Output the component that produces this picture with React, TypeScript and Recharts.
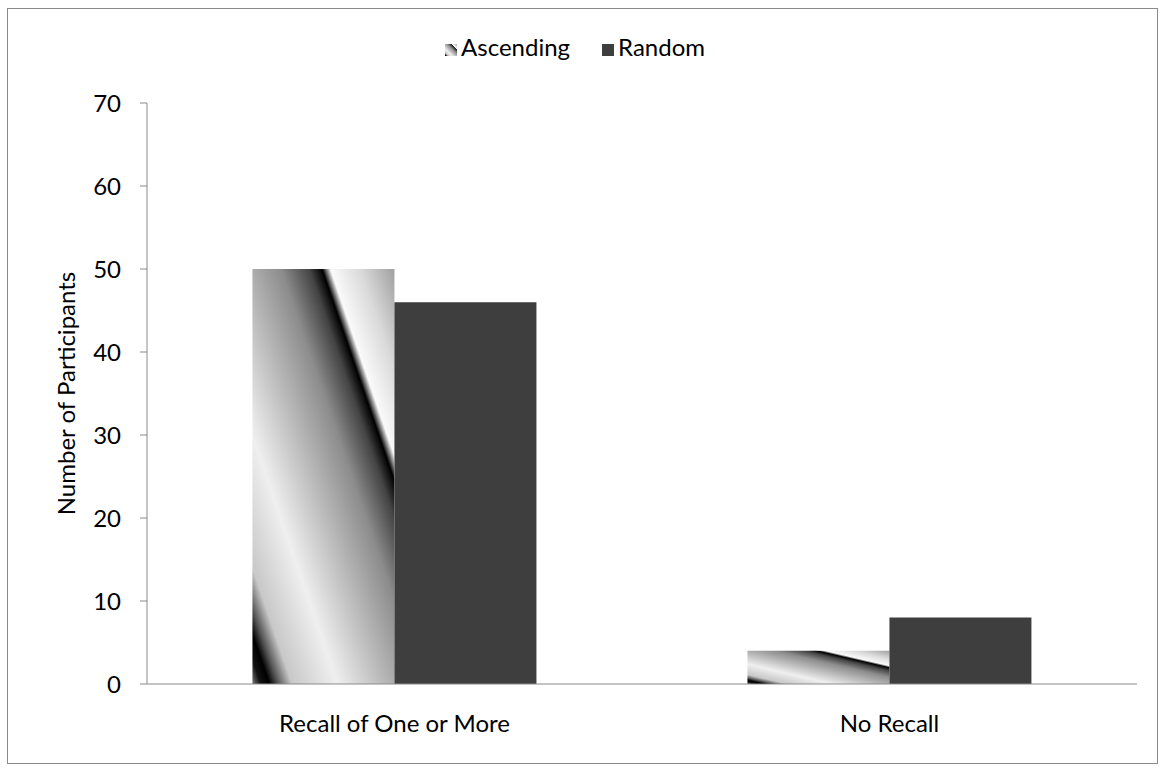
import React from "react";
import { BarChart, Bar, XAxis, YAxis, Legend } from "recharts";

const categories = ["Recall of One or More", "No Recall"];
const ascending = [50, 4];
const random = [46, 8];
const yTicks = [0, 10, 20, 30, 40, 50, 60, 70];

const data = categories.map((c, i) => ({ name: c, idx: i, Ascending: ascending[i], Random: random[i] }));

const FONT = "Lato, 'Open Sans', sans-serif";
const FS = 24;

const EmptyTick = () => <g />;

export default function App() {
  return (
    <div style={{ position: "absolute", left: 0, top: 0, width: 1160, height: 769, background: "#fff", fontFamily: FONT }}>
      <div style={{ position: "absolute", left: 7, top: 8, width: 1149, height: 754, border: "1px solid #8a8a8a" }} />
      <div style={{ position: "absolute", left: 0, top: 0 }}>
        <BarChart
          width={1160}
          height={769}
          data={data}
          margin={{ top: 73, right: 23, bottom: 0, left: 0 }}
          barCategoryGap="21.3%"
          barGap={0}
        >
          <defs>
            <linearGradient id="ascGrad" x1="0" y1="1" x2="1" y2="0">
              <stop offset="0" stopColor="#777" />
              <stop offset="0.03" stopColor="#111" />
              <stop offset="0.06" stopColor="#000" />
              <stop offset="0.09" stopColor="#555" />
              <stop offset="0.14" stopColor="#c8c8c8" />
              <stop offset="0.3" stopColor="#efefef" />
              <stop offset="0.45" stopColor="#bdbdbd" />
              <stop offset="0.6" stopColor="#8c8c8c" />
              <stop offset="0.7" stopColor="#444" />
              <stop offset="0.745" stopColor="#000" />
              <stop offset="0.775" stopColor="#fafafa" />
              <stop offset="0.88" stopColor="#d9d9d9" />
              <stop offset="1" stopColor="#a0a0a0" />
            </linearGradient>
          </defs>
          <Legend
            verticalAlign="top"
            align="center"
            iconType="square"
            iconSize={12}
            wrapperStyle={{ top: 32, left: 0, width: 1160, fontSize: FS, fontFamily: FONT, lineHeight: "30px" }}
            formatter={(v) => (
              <span style={{ color: "#000", marginRight: v === "Ascending" ? 22 : 0 }}>{v}</span>
            )}
          />
          <XAxis
            xAxisId="bounds"
            type="number"
            dataKey="idx"
            domain={[0, 2]}
            ticks={[0, 1, 2]}
            height={0}
            axisLine={false}
            tick={EmptyTick}
            tickLine={{ stroke: "#8a8a8a" }}
            tickSize={6}
          />
          <XAxis
            dataKey="name"
            height={85}
            axisLine={{ stroke: "#8a8a8a" }}
            tickLine={false}
            tick={{ fontSize: FS, fill: "#000", fontFamily: FONT }}
            tickMargin={25}
          />
          <YAxis
            width={147}
            domain={[0, 70]}
            ticks={yTicks}
            interval={0}
            axisLine={{ stroke: "#8a8a8a" }}
            tickLine={{ stroke: "#8a8a8a" }}
            tickSize={7}
            tick={{ fontSize: FS, fill: "#000", fontFamily: FONT }}
            tickMargin={19}
            label={{ value: "Number of Participants", angle: -90, position: "insideLeft", offset: 66, style: { fontSize: FS, fill: "#000", fontFamily: FONT, textAnchor: "middle" } }}
          />
          <Bar dataKey="Ascending" fill="url(#ascGrad)" legendType="square" isAnimationActive={false} />
          <Bar dataKey="Random" fill="#3e3e3e" isAnimationActive={false} />
        </BarChart>
      </div>
    </div>
  );
}
